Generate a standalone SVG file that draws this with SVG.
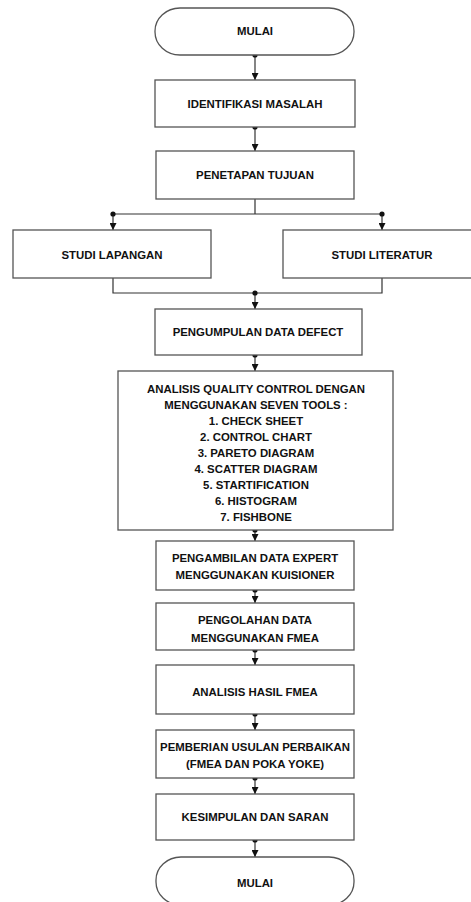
<svg xmlns="http://www.w3.org/2000/svg" width="471" height="902" viewBox="0 0 471 902">
<defs>
<style>
.box{fill:#fff;stroke:#555;stroke-width:1.3}
.t{font-family:"Liberation Sans",Arial,sans-serif;font-weight:bold;font-size:11.4px;fill:#111;text-anchor:middle}
.c{fill:none;stroke:#333;stroke-width:1.2}
.d{fill:#111}
</style>
<marker id="ah" viewBox="0 0 8 8" refX="8" refY="4" markerWidth="7" markerHeight="7" markerUnits="userSpaceOnUse" orient="auto">
<path d="M0,0 L8,4 L0,8 z" fill="#111"/>
</marker>
</defs>
<rect width="471" height="902" fill="#fff"/>
<g id="connectors">
<path class="c" d="M255,55 V80" marker-end="url(#ah)"/>
<path class="c" d="M255,127 V151" marker-end="url(#ah)"/>
<path class="c" d="M255,199 V214 M113,214 H382"/>
<path class="c" d="M113,214 V230" marker-end="url(#ah)"/>
<path class="c" d="M382,214 V230" marker-end="url(#ah)"/>
<path class="c" d="M113,278 V293 H382 V278"/>
<path class="c" d="M255,293 V309" marker-end="url(#ah)"/>
<path class="c" d="M255,355 V371" marker-end="url(#ah)"/>
<path class="c" d="M255,530 V541" marker-end="url(#ah)"/>
<path class="c" d="M255,590 V603" marker-end="url(#ah)"/>
<path class="c" d="M255,650 V665" marker-end="url(#ah)"/>
<path class="c" d="M255,714 V730" marker-end="url(#ah)"/>
<path class="c" d="M255,778 V794" marker-end="url(#ah)"/>
<path class="c" d="M255,840 V857" marker-end="url(#ah)"/>
<circle class="d" cx="255" cy="55" r="2.6"/>
<circle class="d" cx="255" cy="127" r="2.6"/>
<circle class="d" cx="113" cy="214" r="2.6"/>
<circle class="d" cx="382" cy="214" r="2.6"/>
<circle class="d" cx="255" cy="293" r="2.6"/>
<circle class="d" cx="255" cy="355" r="2.6"/>
<circle class="d" cx="255" cy="530" r="2.6"/>
<circle class="d" cx="255" cy="590" r="2.6"/>
<circle class="d" cx="255" cy="650" r="2.6"/>
<circle class="d" cx="255" cy="714" r="2.6"/>
<circle class="d" cx="255" cy="778" r="2.6"/>
<circle class="d" cx="255" cy="840" r="2.6"/>
</g>
<g id="start">
<rect class="box" x="155" y="8" width="199" height="47" rx="25" ry="23"/>
<text class="t" x="255" y="35">MULAI</text>
</g>
<g id="identifikasi">
<rect class="box" x="155" y="80" width="200" height="47"/>
<text class="t" x="255" y="108">IDENTIFIKASI MASALAH</text>
</g>
<g id="penetapan">
<rect class="box" x="156" y="151" width="198" height="48"/>
<text class="t" x="255" y="179">PENETAPAN TUJUAN</text>
</g>
<g id="studi-lapangan">
<rect class="box" x="13" y="230" width="198" height="48"/>
<text class="t" x="112" y="259">STUDI LAPANGAN</text>
</g>
<g id="studi-literatur">
<rect class="box" x="283" y="230" width="192" height="48"/>
<text class="t" x="382" y="259">STUDI LITERATUR</text>
</g>
<g id="pengumpulan">
<rect class="box" x="155" y="309" width="207" height="46"/>
<text class="t" x="258" y="336">PENGUMPULAN DATA DEFECT</text>
</g>
<g id="analisis-qc">
<rect class="box" x="118" y="371" width="275" height="159"/>
<text class="t" x="256" y="393">ANALISIS QUALITY CONTROL DENGAN</text>
<text class="t" x="256" y="409">MENGGUNAKAN SEVEN TOOLS :</text>
<text class="t" x="256" y="425">1. CHECK SHEET</text>
<text class="t" x="256" y="441">2. CONTROL CHART</text>
<text class="t" x="256" y="457">3. PARETO DIAGRAM</text>
<text class="t" x="256" y="473">4. SCATTER DIAGRAM</text>
<text class="t" x="256" y="489">5. STARTIFICATION</text>
<text class="t" x="256" y="505">6. HISTOGRAM</text>
<text class="t" x="256" y="521">7. FISHBONE</text>
</g>
<g id="pengambilan">
<rect class="box" x="156" y="541" width="198" height="49"/>
<text class="t" x="255" y="562">PENGAMBILAN DATA EXPERT</text>
<text class="t" x="255" y="579">MENGGUNAKAN KUISIONER</text>
</g>
<g id="pengolahan">
<rect class="box" x="156" y="603" width="198" height="47"/>
<text class="t" x="255" y="624">PENGOLAHAN DATA</text>
<text class="t" x="255" y="642">MENGGUNAKAN FMEA</text>
</g>
<g id="analisis-hasil">
<rect class="box" x="156" y="665" width="198" height="49"/>
<text class="t" x="255" y="696">ANALISIS HASIL FMEA</text>
</g>
<g id="pemberian">
<rect class="box" x="156" y="730" width="198" height="48"/>
<text class="t" x="255" y="751">PEMBERIAN USULAN PERBAIKAN</text>
<text class="t" x="255" y="768">(FMEA DAN POKA YOKE)</text>
</g>
<g id="kesimpulan">
<rect class="box" x="156" y="794" width="198" height="46"/>
<text class="t" x="255" y="821">KESIMPULAN DAN SARAN</text>
</g>
<g id="end">
<rect class="box" x="156" y="857" width="198" height="48" rx="25" ry="23"/>
<text class="t" x="255" y="887">MULAI</text>
</g>
</svg>
